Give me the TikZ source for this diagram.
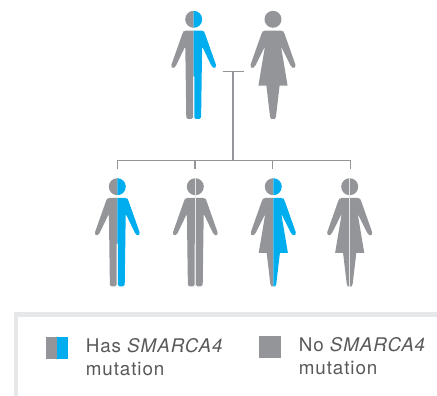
\documentclass[tikz,border=0pt]{standalone}
\usepackage{fontspec}
\setmainfont[LetterSpace=5]{TeX Gyre Heros}
\definecolor{figgray}{RGB}{147,149,152}
\definecolor{mutblue}{RGB}{0,174,239}
\definecolor{framegray}{RGB}{230,231,232}
\definecolor{textgray}{RGB}{88,89,91}
\tikzset{
  link/.style={draw=figgray,line width=1pt},
  legendtext/.style={anchor=north west,inner sep=0.75pt,align=left,text=textgray,font=\fontsize{14.1}{17}\selectfont},
}
% right half of each figure, head centre at the origin
\newcommand{\halfman}[1]{%
  \fill [#1] (0,-8.5) arc (-90:90:8.5) -- cycle ;
  \fill [#1] (0,11.3) [rounded corners=1.2pt] -- (9.7,11.3) -- (10.8,13) -- (22.8,47) -- (21,49.4) -- (18.2,47.4) -- (8.4,27) -- (8,57) -- (7.4,99.6) -- (0.6,99.6) [sharp corners] -- (0.6,57) -- (0,57) -- cycle ;
}
\newcommand{\halfwoman}[1]{%
  \fill [#1] (0,-8.5) arc (-90:90:8.5) -- cycle ;
  \fill [#1] (0,11.3) [rounded corners=1.2pt] -- (9.7,11.3) -- (11,13) -- (23,47) -- (21,49.4) -- (18.2,47.4) -- (8,27) [sharp corners] -- (14.6,66.3) -- (6.6,66.3) -- (3,97) -- (2,99.6) -- (0,99.6) -- cycle ;
}
\newcommand{\person}[4]{% shape, x, left colour, right colour
  \begin{scope}[shift={(#2,186.7)}]
    \begin{scope}[xscale=-1] \csname half#1\endcsname{#3} \end{scope}
    \csname half#1\endcsname{#4}
  \end{scope}
}
\begin{document}
\begin{tikzpicture}[x=0.75pt,y=0.75pt,yscale=-1]
\useasboundingbox (0,0) rectangle (437,396);

%Shape: Parents
\begin{scope}[shift={(0,-167.4)}]
  \person{man}{193.7}{figgray}{mutblue}
  \person{woman}{273}{figgray}{figgray}
\end{scope}
%Shape: Children
\person{man}{117.3}{figgray}{mutblue}
\person{man}{195.3}{figgray}{figgray}
\person{woman}{273.3}{figgray}{mutblue}
\person{woman}{349.7}{figgray}{figgray}
%Straight Lines: split of the plain children
\coordinate (sontop) at (195.3,178.2);
\coordinate (sonbottom) at (195.3,286.3);
\coordinate (daughtertop) at (349.7,178.2);
\coordinate (daughterbottom) at (349.7,286.3);
\draw [framegray,line width=0.5pt] (sontop) -- (sonbottom) ;
\draw [framegray,line width=0.5pt] (daughtertop) -- (daughterbottom) ;

%Straight Lines: descent
\coordinate (barleft) at (222.7,71.7);
\coordinate (barright) at (244,71.7);
\coordinate (trunktop) at (233,71.7);
\coordinate (trunkbottom) at (233,160.5);
\coordinate (busleft) at (117.3,160.5);
\coordinate (bustwo) at (195,160.5);
\coordinate (busthree) at (272.7,160.5);
\coordinate (busright) at (350.3,160.5);
\coordinate (tickone) at (117.3,169.3);
\coordinate (ticktwo) at (195,169.3);
\coordinate (tickthree) at (272.7,169.3);
\coordinate (tickfour) at (350.3,169.3);
\draw [link] (barleft) -- (barright) ;
\draw [link] (trunktop) -- (trunkbottom) ;
\draw [link] (tickone) -- (busleft) -- (busright) -- (tickfour) ;
\draw [link] (bustwo) -- (ticktwo) ;
\draw [link] (busthree) -- (tickthree) ;

%Shape: Legend frame
\coordinate (frameright) at (437,314.5);
\coordinate (framecorner) at (15.8,314.5);
\coordinate (framebottom) at (15.8,396);
\draw [framegray,line width=3.4pt] (frameright) -- (framecorner) -- (framebottom) ;
%Shape: Legend swatches
\fill [figgray] (46,337) rectangle (57,359) ;
\fill [mutblue] (57,337) rectangle (68,359) ;
\fill [figgray] (259,336) rectangle (281,358) ;

% Text Node
\node (haslabel) [legendtext] at (84.5,337.5) {Has \textit{SMARCA4}\\mutation};
% Text Node
\node (nolabel) [legendtext] at (297.5,336.5) {No \textit{SMARCA4}\\mutation};
\end{tikzpicture}
\end{document}
